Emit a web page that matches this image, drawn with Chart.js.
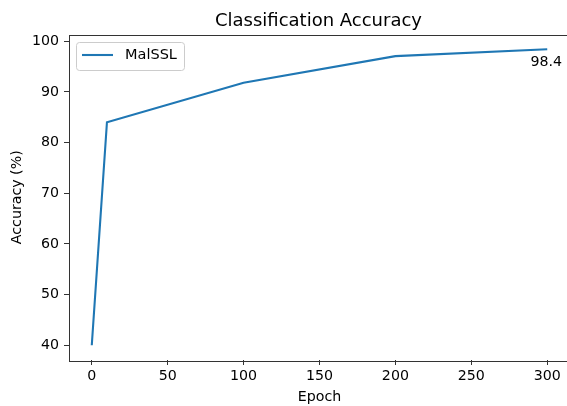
<!DOCTYPE html>
<html>
<head>
<meta charset="utf-8">
<script src="https://cdn.jsdelivr.net/npm/chart.js@4"></script>
<style>
  html, body { margin: 0; padding: 0; background: #fff; overflow: hidden; }
  #wrap { position: absolute; left: 0; top: 0; width: 571px; height: 406px; }
</style>
</head>
<body>
<div id="wrap"><canvas id="acc_chart" width="571" height="406"></canvas></div>
<script>
var epochs = [0, 10, 100, 200, 300];
var accuracy = [40, 84, 91.8, 97.05, 98.4];
var xTicks = [0, 50, 100, 150, 200, 250, 300];
var yTicks = [40, 50, 60, 70, 80, 90, 100];
var seriesName = "MalSSL";
var chartTitle = "Classification Accuracy";

var FONT = "'DejaVu Sans', sans-serif";
var SPINE = "#333333";
var TICK_SIZE = 14.2;

// frame around the plot, like matplotlib spines
var framePlugin = {
  id: "frame",
  afterDraw: function(chart) {
    var a = chart.chartArea, ctx = chart.ctx;
    ctx.save();
    ctx.strokeStyle = SPINE;
    ctx.lineWidth = 1;
    ctx.strokeRect(Math.round(a.left) + 0.5, Math.round(a.top) + 0.5,
      Math.round(a.right - a.left), Math.round(a.bottom - a.top));
    ctx.restore();
  }
};

// title centred over the plot area
var titlePlugin = {
  id: "plotTitle",
  afterDraw: function(chart) {
    var a = chart.chartArea, ctx = chart.ctx;
    ctx.save();
    ctx.font = "18px " + FONT;
    ctx.fillStyle = "#000";
    ctx.textAlign = "center";
    ctx.textBaseline = "alphabetic";
    ctx.fillText(chartTitle, (a.left + a.right) / 2 - 1, 26);
    ctx.restore();
  }
};

// legend box in the upper left corner
var legendPlugin = {
  id: "cornerLegend",
  afterDraw: function(chart) {
    var a = chart.chartArea, ctx = chart.ctx;
    var ds = chart.data.datasets[0];
    var x = a.left + 7, y = a.top + 7.5, w = 108, h = 28, r = 3;
    ctx.save();
    ctx.beginPath();
    ctx.roundRect(x + 0.5, y + 0.5, w, h, r);
    ctx.fillStyle = "rgba(255,255,255,0.8)";
    ctx.fill();
    ctx.strokeStyle = "#cccccc";
    ctx.lineWidth = 1;
    ctx.stroke();
    ctx.beginPath();
    ctx.moveTo(x + 6, y + 13);
    ctx.lineTo(x + 37, y + 13);
    ctx.strokeStyle = ds.borderColor;
    ctx.lineWidth = ds.borderWidth;
    ctx.stroke();
    ctx.font = "14.5px " + FONT;
    ctx.fillStyle = "#000";
    ctx.textBaseline = "middle";
    ctx.fillText(ds.label, x + 49, y + 13);
    ctx.restore();
  }
};

// value label under the last point
var lastValuePlugin = {
  id: "lastValue",
  afterDraw: function(chart) {
    var n = epochs.length - 1;
    var px = chart.scales.x.getPixelForValue(epochs[n]);
    var py = chart.scales.y.getPixelForValue(accuracy[n]);
    var ctx = chart.ctx;
    ctx.save();
    ctx.font = TICK_SIZE + "px " + FONT;
    ctx.fillStyle = "#000";
    ctx.textAlign = "center";
    ctx.textBaseline = "alphabetic";
    ctx.fillText(accuracy[n].toFixed(1), px - 1, py + 16.5);
    ctx.restore();
  }
};

var points = epochs.map(function(e, i) { return {x: e, y: accuracy[i]}; });

var axisGrid = {
  display: true,
  drawOnChartArea: false,
  drawTicks: true,
  tickLength: 5,
  color: SPINE,
  lineWidth: 1
};

new Chart("acc_chart", {
  type: "line",
  data: {
    datasets: [{
      label: seriesName,
      data: points,
      borderColor: "#1f77b4",
      backgroundColor: "#1f77b4",
      borderWidth: 2.1,
      pointRadius: 0,
      pointHoverRadius: 0,
      tension: 0,
      fill: false
    }]
  },
  options: {
    responsive: false,
    animation: false,
    devicePixelRatio: 1,
    layout: { padding: { top: 34.5, left: 0, right: 1, bottom: 0 } },
    plugins: {
      legend: { display: false },
      title: { display: false },
      tooltip: { enabled: false }
    },
    scales: {
      x: {
        type: "linear",
        min: -15,
        max: 315,
        grid: axisGrid,
        border: { display: false },
        afterBuildTicks: function(axis) {
          axis.ticks = xTicks.map(function(v) { return {value: v}; });
        },
        afterFit: function(scale) { scale.height = 46; },
        ticks: {
          color: "#000",
          padding: 3,
          maxRotation: 0,
          font: { family: FONT, size: TICK_SIZE }
        },
        title: {
          display: true,
          text: "Epoch",
          color: "#000",
          padding: { top: 0, bottom: 0 },
          font: { family: FONT, size: TICK_SIZE }
        }
      },
      y: {
        type: "linear",
        min: 40 - 58.4 * 0.05,
        max: 98.4 + 58.4 * 0.05,
        grid: axisGrid,
        border: { display: false },
        afterBuildTicks: function(axis) {
          axis.ticks = yTicks.map(function(v) { return {value: v}; });
        },
        afterFit: function(scale) { scale.width = 69; },
        ticks: {
          color: "#000",
          padding: 5,
          font: { family: FONT, size: TICK_SIZE }
        },
        title: {
          display: true,
          text: "Accuracy (%)",
          color: "#000",
          padding: { top: 8.5, bottom: 0 },
          font: { family: FONT, size: TICK_SIZE }
        }
      }
    }
  },
  plugins: [framePlugin, titlePlugin, legendPlugin, lastValuePlugin]
});
</script>
</body>
</html>
